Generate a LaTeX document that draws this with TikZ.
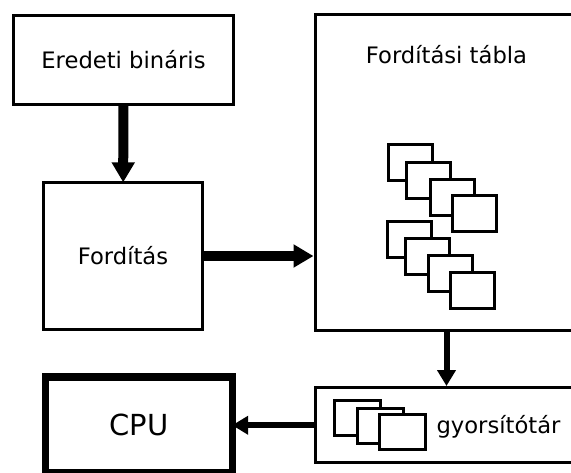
\documentclass[tikz,border=0pt]{standalone}
\usepackage{fontspec}
\setmainfont{DejaVu Sans}
\usetikzlibrary{arrows.meta}
\tikzset{
  box/.style={draw=black, line width=2.25pt, fill=white, inner sep=0pt,
              font=\fontsize{17}{20}\selectfont, text height=12.4pt, text depth=0pt},
  lbl/.style={inner sep=0pt, font=\fontsize{17}{20}\selectfont},
  card/.style={draw=black, line width=2.25pt, fill=white},
  bigarrow/.style={line width=7.5pt, -{Triangle[length=15pt,width=16.5pt]}},
  smallarrow/.style={line width=4.5pt, -{Triangle[length=12pt,width=13.5pt]}},
}
\begin{document}
\begin{tikzpicture}[x=0.75pt,y=-0.75pt]
  \path[use as bounding box] (0,0) rectangle (571,472);
  \clip (0,0) rectangle (571,472);

  % main blocks
  \node[box, minimum width=165pt, minimum height=66.75pt] (orig) at (123.5,60) {Eredeti bináris};
  \node[box, minimum width=119.25pt, minimum height=110.25pt] (ford) at (123,256) {Fordítás};
  \node[box, minimum width=206.25pt, minimum height=237pt] (table) at (452.5,172.5) {};
  \node[lbl, anchor=base] (title) at (446.5,63) {Fordítási tábla};
  \node[box, minimum width=206.25pt, minimum height=56.6pt] (cache) at (452.5,425.25) {};
  \node[lbl, anchor=base] (cachelbl) at (498.5,433) {gyorsítótár};
  \node[box, line width=5.5pt, minimum width=140.25pt, minimum height=71.6pt,
        font=\fontsize{21.75}{26}\selectfont, text height=15.9pt] (cpu) at (139,424.75) {CPU};

  % translated blocks stacked inside the table
  \foreach \x/\y in {388.5/144.5, 406.5/162.5, 430.5/179.5, 452.5/195.5,
                     387.5/221.5, 405.5/238.5, 428.5/255.5, 450.5/272.5}
    \draw[card] (\x,\y) rectangle ++(44,36);

  % cached blocks
  \foreach \x/\y in {334.5/400.5, 357.5/408.5, 379.5/414.5}
    \draw[card] (\x,\y) rectangle ++(46,35);

  % data flow
  \draw[bigarrow, shorten >=-1pt] (orig) -- (ford);
  \draw[bigarrow] (ford.east) -- (ford.east -| table.west);
  \draw[smallarrow] (title.center |- table.south) -- (title.center |- cache.north);
  \draw[smallarrow, shorten >=-3pt] (cache.west) -- (cpu.east |- cache.west);
\end{tikzpicture}
\end{document}
